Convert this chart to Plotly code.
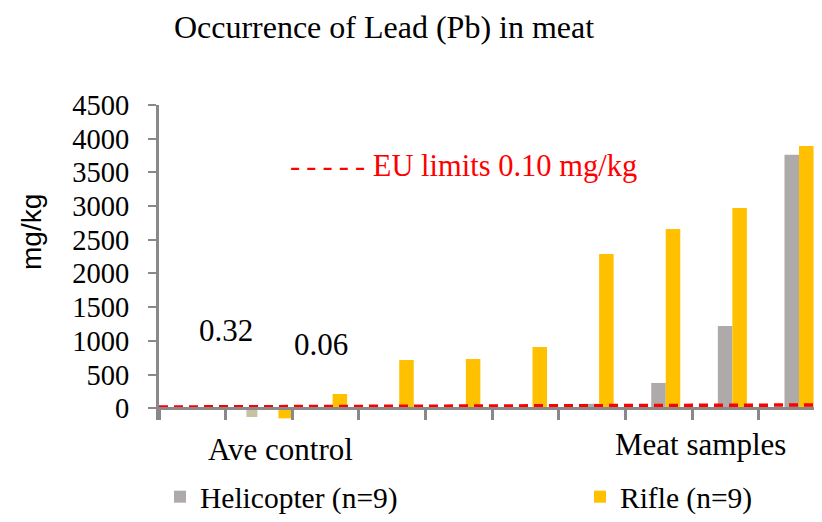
import plotly.graph_objects as go

# ---------------- data ----------------
categories = ["Blank", "Ave control", "S1", "S2", "S3", "S4", "S5", "S6", "S7", "S8"]
helicopter = [None, None, None, None, 10, 15, 65, 375, 1220, 3760]
rifle = [None, None, 211, 715, 730, 908, 2290, 2660, 2970, 3890]

control_category = ["Ave control"]
control_helicopter = [-130]
control_rifle = [-150]
control_labels = ["0.32", "0.06"]

eu_limit_x = [0, 1]
eu_limit_y = [18, 48]

y_ticks = [0, 500, 1000, 1500, 2000, 2500, 3000, 3500, 4000, 4500]

# ---------------- layout helpers ----------------
# The page body keeps the browser's default 8px margin, so the figure is
# made 8px smaller and all reference positions are shifted by that offset.
OFF = 8
W_FIG, H_FIG = 822 - OFF, 522 - OFF
L_REF, T_REF, W, H = 159, 105, 663, 315
L, T = L_REF - OFF, T_REF - OFF
B = H_FIG - T - H
Y_MIN, Y_MAX = -175, 4500


def px_x(px):
    return (px - L_REF) / W


def px_y(py):
    return (T_REF + H - py) / H


SERIF = "Liberation Serif"
GRAY = "#AEAAAA"
TAN = "#C9C1A1"
ORANGE = "#FFC000"
AXIS = "#898989"
RED = "#FF0000"

fig = go.Figure()

fig.add_trace(go.Bar(
    x=categories, y=helicopter, name="Helicopter (n=9)", legend="legend",
    marker=dict(color=GRAY, line=dict(width=0)),
    offset=-0.113, width=0.218,
))
fig.add_trace(go.Bar(
    x=categories, y=rifle, name="Rifle (n=9)", legend="legend2",
    marker=dict(color=ORANGE, line=dict(width=0)),
    offset=0.105, width=0.218,
))
fig.add_trace(go.Bar(
    x=control_category, y=control_helicopter, showlegend=False,
    marker=dict(color=TAN, line=dict(width=0)),
    offset=-0.188, width=0.165,
))
fig.add_trace(go.Bar(
    x=control_category, y=control_rifle, showlegend=False,
    marker=dict(color=ORANGE, line=dict(width=0)),
    offset=0.293, width=0.21,
))
fig.add_trace(go.Scatter(
    x=eu_limit_x, y=eu_limit_y, xaxis="x2", mode="lines", showlegend=False,
    line=dict(color=RED, width=3.5, dash="9px,6px"),
    hoverinfo="skip",
))

annotations = [
    dict(text=control_labels[0], x=px_x(226), y=px_y(330)),
    dict(text=control_labels[1], x=px_x(321), y=px_y(344)),
    dict(text="Ave control", x=px_x(280), y=px_y(449)),
    dict(text="Meat samples", x=px_x(700), y=px_y(444)),
]
for a in annotations:
    a.update(xref="paper", yref="paper", showarrow=False,
             xanchor="center", yanchor="middle",
             font=dict(family=SERIF, size=31, color="black"))

annotations.append(dict(
    text="-\u2009-\u2009-\u2009-\u2009- EU limits 0.10 mg/kg",
    x=px_x(288), y=px_y(166), xref="paper", yref="paper", showarrow=False,
    xanchor="left", yanchor="middle",
    font=dict(family=SERIF, size=30.5, color=RED),
))
annotations.append(dict(
    text="mg/kg", textangle=-90,
    x=px_x(31), y=px_y(232), xref="paper", yref="paper", showarrow=False,
    xanchor="center", yanchor="middle",
    font=dict(family="Liberation Sans", size=28, color="black"),
))

legend_common = dict(
    orientation="h", xanchor="left", yanchor="middle",
    font=dict(family=SERIF, size=29.5, color="black"),
    bgcolor="rgba(0,0,0,0)",
)

fig.update_layout(
    width=W_FIG, height=H_FIG,
    margin=dict(l=L, r=W_FIG - L - W, t=T, b=B, pad=0, autoexpand=False),
    paper_bgcolor="white", plot_bgcolor="white",
    title=dict(text="Occurrence of Lead (Pb) in meat",
               x=(384 - OFF) / W_FIG, xanchor="center",
               y=1 - (27 - OFF) / H_FIG, yanchor="middle",
               font=dict(family=SERIF, size=32, color="black")),
    barmode="overlay",
    xaxis=dict(
        type="category", categoryorder="array", categoryarray=categories,
        range=[-0.5, 9.45], automargin=False,
        anchor="free", position=(0 - Y_MIN) / (Y_MAX - Y_MIN),
        showline=True, linecolor=AXIS, linewidth=3,
        ticks="outside", tickson="boundaries", ticklen=10, tickwidth=3,
        tickcolor=AXIS, showticklabels=False, showgrid=False, zeroline=False,
    ),
    xaxis2=dict(overlaying="x", range=[0, 1], visible=False, anchor="y"),
    yaxis=dict(
        range=[Y_MIN, Y_MAX], tickvals=y_ticks, automargin=False,
        showline=True, linecolor=AXIS, linewidth=3,
        ticks="outside", ticklen=8, tickwidth=2, tickcolor=AXIS,
        ticklabelstandoff=13,
        tickfont=dict(family=SERIF, size=28.5, color="black"),
        showgrid=False, zeroline=False,
    ),
    legend=dict(x=px_x(160), y=px_y(497), **legend_common),
    legend2=dict(x=px_x(580), y=px_y(497), **legend_common),
    annotations=annotations,
    showlegend=True,
)

fig.write_html("out.html")
